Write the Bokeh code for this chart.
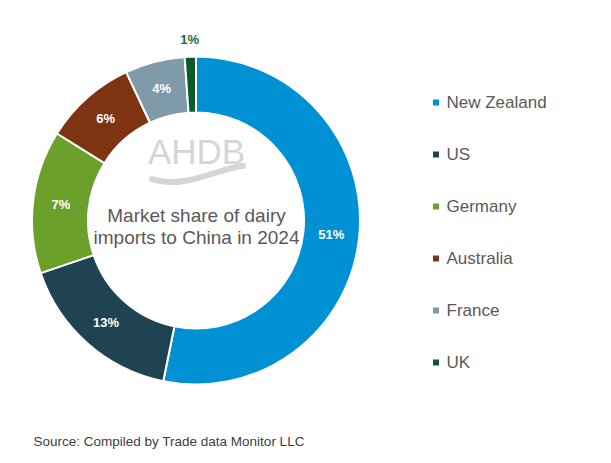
import math
from bokeh.plotting import figure
from bokeh.models import Range1d
from bokeh.core.properties import value
from bokeh.embed import file_html
from bokeh.resources import INLINE

# ---- data ----
countries = ["New Zealand", "US", "Germany", "Australia", "France", "UK"]
shares = [53.2, 16.6, 14.1, 9.1, 5.9, 1.1]          # slice sizes as drawn
share_labels = ["51%", "13%", "7%", "6%", "4%", "1%"]  # printed labels
colors = ["#0090D4", "#1F4352", "#6BA02A", "#7E3312", "#7F9BAA", "#0C5A2C"]
center_title = ["Market share of dairy", "imports to China in 2024"]
source_text = "Source: Compiled by Trade data Monitor LLC"

W, H = 595, 455


def py(y):
    # screenshot y (top-down) -> data y (bottom-up)
    return H - y


p = figure(width=W, height=H, output_backend="svg", toolbar_location=None,
           x_range=Range1d(0, W), y_range=Range1d(0, H),
           min_border=0)
p.axis.visible = False
p.grid.visible = False
p.outline_line_color = None
p.background_fill_color = "white"
p.border_fill_color = "white"

cx, cy = 195.5, py(220)
r_out, r_in = 164, 108

total = sum(shares)
starts, ends, mids = [], [], []
acc = 0.0
for s in shares:
    a0 = acc / total * 2 * math.pi
    acc += s
    a1 = acc / total * 2 * math.pi
    starts.append(math.pi / 2 - a0)
    ends.append(math.pi / 2 - a1)
    mids.append((a0 + a1) / 2)

p.annular_wedge(x=[cx] * len(shares), y=[cy] * len(shares),
                inner_radius=r_in, outer_radius=r_out,
                start_angle=starts, end_angle=ends, direction="clock",
                fill_color=colors, line_color="white", line_width=2)

# slice labels
lx, ly, lc = [], [], []
for m, s, c in zip(mids, shares, colors):
    r = (r_in + r_out) / 2 if s / total > 0.02 else r_out + 17
    lx.append(cx + r * math.sin(m))
    ly.append(cy + r * math.cos(m))
    lc.append("white" if s / total > 0.02 else "#1E6B3C")
p.text(x=lx, y=ly, text=share_labels, text_color=lc,
       text_font=value("Liberation Sans"), text_font_style="bold",
       text_font_size="13px", text_align="center", text_baseline="middle")

# watermark logo
p.text(x=[196], y=[py(151)], text=["AHDB"], text_color="#D5D5D5",
       text_font=value("Liberation Sans"), text_font_size="35px",
       text_align="center", text_baseline="middle")
p.bezier(x0=[149], y0=[py(178)], x1=[245], y1=[py(165)],
         cx0=[185], cy0=[py(190)], cx1=[215], cy1=[py(168)],
         line_color="#D5D5D5", line_width=6)

# centre title
p.text(x=[196, 196], y=[py(215), py(237)], text=center_title,
       text_color="#595959", text_font=value("Liberation Sans"),
       text_font_size="19px", text_align="center", text_baseline="middle")

# legend
leg_y = [102, 154, 206, 258, 310, 362]
p.rect(x=[435.5] * len(countries), y=[py(v) for v in leg_y], width=6, height=6,
       fill_color=colors, line_color=None)
p.text(x=[446] * len(countries), y=[py(v) for v in leg_y], text=countries,
       text_color="#595959", text_font=value("Liberation Sans"),
       text_font_size="17px", text_align="left", text_baseline="middle")

# source
p.text(x=[33], y=[py(441)], text=[source_text], text_color="#404040",
       text_font=value("Liberation Sans"), text_font_size="13.5px",
       text_align="left", text_baseline="middle")

open("out.html", "w").write(file_html(p, INLINE))
